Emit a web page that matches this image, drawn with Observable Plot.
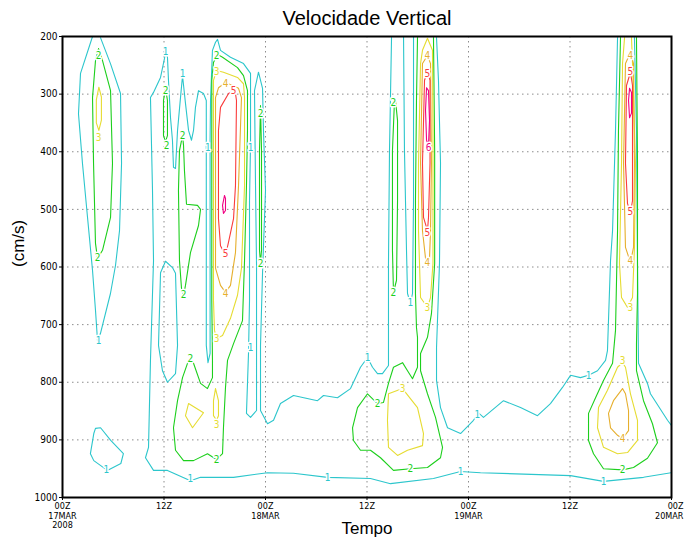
<!DOCTYPE html>
<html><head><meta charset="utf-8">
<script src="https://cdn.jsdelivr.net/npm/d3@7"></script>
<script src="https://cdn.jsdelivr.net/npm/@observablehq/plot@0.6"></script>
<style>body{margin:0;background:#fff}</style>
</head><body><div id="chart"></div>
<script>
const title = "Velocidade Vertical";
const yLabel = "(cm/s)";
const xLabel = "Tempo";
const pressureTicks = [200, 300, 400, 500, 600, 700, 800, 900, 1000];
const timeTicks = [0, 12, 24, 36, 48, 60, 72]; // hours since 00Z 17MAR2008
const timeTickLabels = ["00Z\n17MAR\n2008", "12Z", "00Z\n18MAR", "12Z", "00Z\n19MAR", "12Z", "00Z\n20MAR"];
const levels = [1, 2, 3, 4, 5, 6];
const levelColors = ["#2cc6cc", "#1ccf1c", "#e6dc32", "#e6af2d", "#fa3c3c", "#f00082"];

// contour polylines, [hour, hPa]
const level1Lines = [
  [[72,957],[68.69,965],[63.96,972],[60.06,962],[49.42,957],[47.06,955],[43.86,967],[38.78,976],[36.41,967],[31.33,965],[27.31,958],[24.24,957],[20.22,965],[16.32,965],[15.13,971],[12.41,953],[10.76,953],[9.81,931],
   [10.17,913],[10.40,762],[10.76,589],[10.64,467],[10.40,306],[10.76,297],[11.59,271],[12.06,238],[12.18,224],[12.41,236],[12.53,276],[12.77,341],[13.00,380],[13.12,427],[13.36,429],[13.60,363],[13.95,306],[14.19,268],[14.54,316],[14.90,363],[15.25,380],[15.49,363],[15.72,323],[16.08,294],[16.67,299],[17.0,311],[17.0,380],[17.0,580],[17.0,736],[17.2,766],[17.45,750],[17.45,589],[17.45,380],[17.5,311],[17.73,224],[18.09,210],[18.33,205],[18.68,224],[19.86,236],[21.40,247],[22.23,264],[22.23,386],[22.11,485],[22.11,658],[21.99,750],[21.75,854],[22.23,861],[22.94,849],[22.94,736],[22.94,597],[22.82,459],[22.70,294],[23.17,262],[23.65,290],[23.76,363],[24.00,467],[23.65,610],[23.41,736],[23.41,849],[24.24,872],[24.95,866],[25.77,837],[27.31,823],[30.15,832],[30.86,823],[32.51,827],[34.05,811],[35.23,774],[36.06,757],[36.65,774],[37.24,785],[37.83,785],[38.54,771],[38.54,594],[38.66,398],[38.90,202]],
  [[12.18,590],[11.59,610],[11.35,736],[11.82,780],[12.41,800],[13.36,785],[13.60,736],[13.36,611],[13.00,601],[12.18,590]],
  [[3.55,200],[2.13,264],[1.89,334],[2.36,420],[2.96,514],[3.55,606],[3.90,675],[4.14,728],[4.49,715],[5.67,646],[6.27,597],[6.74,537],[6.98,420],[6.86,299],[5.67,247],[4.49,202]],
  [[3.9,880],[4.5,879],[5.7,901],[7.2,924],[6.9,941],[5.3,953],[3.7,936],[3.3,924],[3.7,889],[3.9,880]],
  [[40.32,200],[40.43,398],[40.67,571],[40.79,646],[41.14,663],[41.38,646],[41.50,485],[41.50,311],[41.50,200]],
  [[44.22,202],[44.45,276],[44.69,420],[44.57,594],[44.22,740],[44.22,797],[44.69,844],[45.52,879],[47.06,889],[48.59,866],[49.18,853],[49.77,861],[52.14,832],[54.15,844],[56.16,858],[57.69,837],[59.11,809],[60.06,788],[61.24,792],[62.19,788],[63.25,780],[64.20,762],[64.43,745],[64.79,589],[65.03,537],[65.38,363],[65.62,202]],
  [[67.62,202],[67.86,363],[67.98,594],[68.10,767],[69.16,802],[69.51,820],[71.53,866],[72,875]]
];
const level2Lines = [
  [[4.26,221],[3.9,242],[3.55,306],[3.67,420],[3.9,559],[4.14,585],[4.73,571],[5.68,514],[5.91,420],[5.68,294],[4.73,242],[4.26,221]],
  [[12.18,290],[11.94,311],[11.94,372],[12.18,382],[12.41,372],[12.41,311],[12.18,290]],
  [[14.19,372],[13.83,398],[13.71,467],[13.83,589],[14.07,637],[14.31,649],[14.54,632],[15.13,575],[16.08,528],[16.32,500],[15.96,493],[14.66,491],[14.42,433],[14.31,389],[14.19,372]],
  [[18.33,231],[17.85,245],[17.65,276],[17.65,467],[17.65,658],[17.73,762],[17.73,792],[17.14,811],[16.32,802],[15.49,767],[15.13,759],[14.90,762],[14.19,792],[13.60,832],[13.12,879],[13.36,918],[14.31,936],[15.49,936],[17.14,924],[18.21,934],[18.92,924],[19.03,879],[19.27,809],[19.51,762],[20.22,733],[21.28,693],[21.52,589],[21.75,459],[21.87,363],[21.87,294],[21.40,268],[20.69,254],[18.92,236],[18.33,231]],
  [[23.41,320],[23.29,398],[23.29,571],[23.41,592],[23.53,571],[23.53,398],[23.41,320]],
  [[39.25,311],[39.01,398],[39.01,571],[39.13,644],[39.49,623],[39.61,485],[39.61,346],[39.37,311],[39.25,311]],
  [[41.97,202],[41.85,311],[41.73,485],[41.73,646],[41.85,705],[41.97,722],[41.97,774],[41.38,794],[40.79,780],[40.20,766],[39.13,774],[38.54,802],[37.95,835],[37.24,837],[36.06,820],[34.88,844],[34.29,879],[34.40,901],[35.23,918],[36.41,918],[37.60,931],[39.13,953],[41.14,950],[43.15,948],[44.69,931],[44.93,913],[44.10,861],[43.15,820],[42.33,780],[42.33,750],[43.15,722],[43.62,681],[44.0,594],[44.0,398],[43.86,202]],
  [[65.97,202],[65.73,363],[65.62,537],[65.38,710],[65.03,767],[63.96,797],[63.02,827],[62.19,854],[62.19,901],[62.78,924],[63.96,950],[66.21,952],[67.51,948],[69.16,932],[70.34,905],[69.75,872],[68.69,832],[67.86,780],[67.86,733],[67.98,646],[67.98,420],[67.86,202]]
];
const level3Lines = [
  [[4.3,288],[4.0,310],[4.0,350],[4.3,363],[4.6,345],[4.6,305],[4.3,288]],
  [[18.21,259],[17.85,276],[17.85,467],[17.85,658],[17.97,710],[18.21,724],[18.92,719],[19.86,689],[20.69,649],[21.16,602],[21.52,459],[21.52,306],[21.40,282],[20.69,271],[19.03,262],[18.21,259]],
  [[14.90,837],[16.67,853],[15.37,879],[14.54,858],[14.90,837]],
  [[18.09,811],[17.85,832],[17.85,858],[18.21,866],[18.44,858],[18.44,832],[18.09,811]],
  [[43.15,203],[42.56,224],[42.33,247],[42.09,420],[42.09,537],[42.33,653],[43.15,670],[43.51,653],[43.80,594],[43.80,363],[43.74,224],[43.15,203]],
  [[38.54,820],[40.20,811],[41.97,844],[42.68,889],[42.56,910],[40.79,918],[39.61,927],[38.54,913],[38.42,866],[38.54,820]],
  [[66.45,202],[66.21,247],[66.09,420],[65.85,594],[66.09,653],[66.80,670],[67.39,653],[67.62,566],[67.74,420],[67.39,247],[67.27,202]],
  [[66.21,766],[65.62,774],[64.43,814],[63.37,844],[63.25,879],[63.96,913],[65.62,924],[66.80,922],[67.98,901],[67.98,866],[67.15,820],[66.56,774],[66.21,766]]
];
const level4Lines = [
  [[19.27,280],[18.44,289],[18.09,306],[18.09,467],[18.09,602],[18.68,632],[19.27,644],[19.86,632],[20.45,575],[20.81,459],[21.16,306],[20.81,290],[20.10,285],[19.27,280]],
  [[43.15,233],[42.56,247],[42.33,420],[42.56,537],[42.92,585],[43.15,592],[43.39,585],[43.51,537],[43.62,420],[43.51,247],[43.15,233]],
  [[67.15,228],[66.56,247],[66.33,420],[66.56,566],[67.15,592],[67.51,566],[67.62,420],[67.51,247],[67.15,228]],
  [[66.21,811],[65.14,832],[64.55,854],[64.79,879],[65.62,892],[66.21,898],[66.92,884],[66.92,849],[66.56,820],[66.21,811]]
];
const level5Lines = [
  [[19.86,297],[19.63,299],[18.68,323],[18.44,363],[18.44,467],[18.44,516],[18.68,563],[19.27,580],[19.63,557],[20.22,516],[20.45,459],[20.57,311],[20.45,299],[19.86,297]],
  [[43.15,262],[42.80,276],[42.56,420],[42.68,514],[43.15,537],[43.27,514],[43.45,420],[43.45,276],[43.15,262]],
  [[67.15,262],[66.68,285],[66.56,420],[66.80,490],[67.15,505],[67.39,485],[67.39,420],[67.39,285],[67.15,262]]
];
const level6Lines = [
  [[19.15,476],[18.92,493],[19.03,507],[19.27,502],[19.27,481],[19.15,476]],
  [[43.04,289],[42.92,328],[43.04,380],[43.27,389],[43.39,346],[43.27,294],[43.04,289]],
  [[67.04,290],[66.92,311],[67.04,341],[67.27,333],[67.27,297],[67.04,290]]
];
// contour labels: [hour, hPa, level]
const contourLabels = [
  [4.26,728,1],[5.20,952,1],[12.18,226,1],[14.19,264,1],[17.2,393,1],[22.23,393,1],[22.23,741,1],[15.13,967,1],[31.33,965,1],[36.06,757,1],[41.14,662,1],[47.06,955,1],[49.06,856,1],[62.19,788,1],[63.96,972,1],
  [4.26,233,2],[4.14,584,2],[12.18,294,2],[12.30,389,2],[14.19,372,2],[14.31,649,2],[18.21,233,2],[15.13,759,2],[18.21,934,2],[23.41,334,2],[23.41,594,2],[39.13,315,2],[39.13,644,2],[37.24,837,2],[41.14,950,2],[66.21,952,2],
  [4.26,375,3],[18.21,262,3],[18.21,724,3],[18.21,873,3],[40.20,811,3],[43.15,670,3],[67.15,670,3],[66.21,762,3],
  [19.27,282,4],[19.27,646,4],[43.15,233,4],[43.15,592,4],[67.15,233,4],[67.15,589,4],[66.21,898,4],
  [20.22,294,5],[19.27,577,5],[43.15,264,5],[43.15,540,5],[67.15,262,5],[67.15,505,5],
  [43.27,394,6]
];

const rows = [];
[level1Lines, level2Lines, level3Lines, level4Lines, level5Lines, level6Lines].forEach((lines, i) =>
  lines.forEach((pts, j) => pts.forEach(([h, p]) => rows.push({h, p, level: levels[i], id: `${i}-${j}`}))));

const smallFont = "'DejaVu Sans Condensed', 'Liberation Sans Narrow', 'DejaVu Sans', sans-serif";
const gridStyle = {stroke: "#8c8c8c", strokeOpacity: 1, strokeWidth: 1, strokeDasharray: "1.5,3.5"};
const lastTick = timeTicks[timeTicks.length - 1];

const chart = Plot.plot({
  width: 684, height: 541,
  marginLeft: 62, marginRight: 13, marginTop: 36, marginBottom: 44,
  x: {domain: [0, 72]},
  y: {domain: [1000, 200]},
  color: {type: "ordinal", domain: levels, range: levelColors},
  style: {background: "white", fontFamily: "'DejaVu Sans', sans-serif", color: "black"},
  marks: [
    Plot.gridX(timeTicks.slice(1, -1), gridStyle),
    Plot.gridY(pressureTicks.slice(1, -1), gridStyle),
    Plot.line(rows, {x: "h", y: "p", z: "id", stroke: "level", strokeWidth: 1.1, clip: true}),
    Plot.text(contourLabels, {x: d => d[0], y: d => d[1], text: d => String(d[2]), fill: d => d[2],
      stroke: "white", strokeWidth: 3, paintOrder: "stroke", fontSize: 10, fontFamily: smallFont}),
    Plot.frame({stroke: "black", strokeWidth: 2}),
    Plot.axisY(pressureTicks, {tickSize: 3, tickPadding: 2, fontSize: 10, label: null, fontFamily: smallFont,
      tickFormat: d => String(d)}),
    Plot.axisX(timeTicks, {tickSize: 3, tickPadding: 2, fontSize: 9, label: null, lineHeight: 1.05, fontFamily: smallFont,
      tickFormat: d => d === lastTick ? "" : timeTickLabels[timeTicks.indexOf(d)]}),
    Plot.text([lastTick], {x: d => d, frameAnchor: "bottom", dy: 5, dx: 12, lineAnchor: "top", textAnchor: "end",
      text: d => timeTickLabels[timeTicks.indexOf(d)], fontSize: 9, lineHeight: 1.05, fontFamily: smallFont}),
    Plot.text([title], {frameAnchor: "top", dy: -18, lineAnchor: "middle", fontSize: 20, fontFamily: "'Liberation Sans', sans-serif"}),
    Plot.text([yLabel], {frameAnchor: "left", dx: -44, rotate: -90, lineAnchor: "middle", fontSize: 17, fontFamily: "'Liberation Sans', sans-serif"}),
    Plot.text([xLabel], {frameAnchor: "bottom", dy: 31, lineAnchor: "middle", fontSize: 17, fontFamily: "'Liberation Sans', sans-serif"})
  ]
});
document.getElementById("chart").appendChild(chart);
</script>
</body></html>
